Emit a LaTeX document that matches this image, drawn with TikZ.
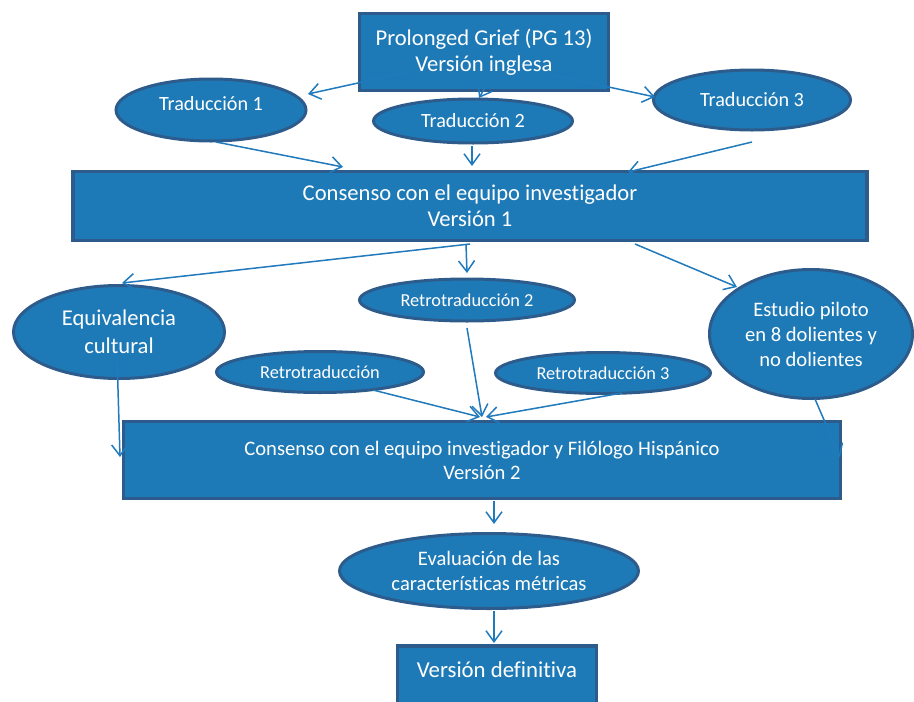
\documentclass[tikz,border=0pt]{standalone}
\usepackage{fontspec}
\setmainfont{Carlito}[Ligatures={NoCommon}]
\usetikzlibrary{shapes.geometric,arrows.meta,calc}
\definecolor{fillb}{RGB}{30,122,182}
\definecolor{edgeb}{RGB}{45,92,140}
\definecolor{arrb}{RGB}{32,122,188}
\begin{document}
\begin{tikzpicture}[x=1pt,y=-1pt,
 box/.style={draw=edgeb,fill=fillb,line width=3.5pt,rectangle,inner sep=0pt},
 ell/.style={draw=edgeb,fill=fillb,line width=3pt,ellipse,inner sep=0pt},
 txt/.style={text=white,align=center,inner sep=0pt},
 arr/.style={draw=arrb,line width=1.5pt,-{Straight Barb[length=11pt,width=16pt,line width=1.5pt]}}]
\clip (0,0) rectangle (914,702);
\fill[white] (0,0) rectangle (914,702);
% shapes
\node[box,txt,minimum width=249,minimum height=77,font=\fontsize{22.6}{26}\selectfont] (top) at (484,52) {Prolonged Grief (PG 13)\\Versión inglesa};
\node[ell,minimum width=190,minimum height=62] (t1) at (211,110) {};
\node[txt,font=\fontsize{20.2}{23}\selectfont] (t1t) at (211,104) {Traducción 1};
\node[ell,txt,minimum width=199,minimum height=44,font=\fontsize{20.2}{23}\selectfont] (t2) at (473,121) {Traducción 2};
\node[ell,txt,minimum width=197,minimum height=60,font=\fontsize{20.2}{23}\selectfont] (t3) at (752,100) {Traducción 3};
\node[box,txt,minimum width=794,minimum height=69,font=\fontsize{22.6}{26}\selectfont] (b1) at (470,206) {Consenso con el equipo investigador\\Versión 1};
\node[ell,txt,minimum width=211,minimum height=93,font=\fontsize{22.6}{28}\selectfont] (eq) at (119,332) {Equivalencia\\cultural};
\node[ell,txt,minimum width=215,minimum height=42,font=\fontsize{18.3}{21}\selectfont] (r2) at (467,300) {Retrotraducción 2};
\node[ell,txt,minimum width=203,minimum height=129,font=\fontsize{20.6}{25}\selectfont] (es) at (811,334) {Estudio piloto\\en 8 dolientes y\\no dolientes};
\node[ell,txt,minimum width=207,minimum height=41,font=\fontsize{18.3}{21}\selectfont] (r1) at (320,372) {Retrotraducción};
\node[ell,txt,minimum width=215,minimum height=41,font=\fontsize{18.3}{21}\selectfont] (r3) at (603,373) {Retrotraducción 3};
\node[box,txt,minimum width=717,minimum height=77,font=\fontsize{20.6}{24}\selectfont] (b2) at (482,460) {Consenso con el equipo investigador y Filólogo Hispánico\\Versión 2};
\node[ell,txt,minimum width=299,minimum height=75,font=\fontsize{20.6}{25}\selectfont] (ev) at (489,571) {Evaluación de las\\características métricas};
\node[box,minimum width=199,minimum height=70] (fin) at (497,681) {};
\node[txt,font=\fontsize{22.8}{26}\selectfont] (fint) at (497,670) {Versión definitiva};
% connectors
\draw[arr] ($(top.center)+(-76,20)$) -- ($(t1.center)+(97,-16)$);
\draw[arr] ($(top.center)+(2,34)$) -- ($(t2.center)+(6,-23)$);
\draw[arr] ($(top.center)+(69,23)$) -- ($(t3.center)+(-97,-3)$);
\draw[arr] ($(t1.center)+(5,32)$) -- ($(b1.center)+(-127,-39)$);
\draw[arr] ($(t2.center)+(-1,25)$) -- ($(b1.center)+(2,-40)$);
\draw[arr] ($(t3.center)+(0,42)$) -- ($(b1.center)+(158,-34)$);
\draw[arr] ($(b1.center)+(0,38)$) -- ($(eq.center)+(3,-49)$);
\draw[arr] ($(b1.center)+(-4,38)$) -- ($(r2.center)+(0,-27)$);
\draw[arr] ($(b1.center)+(165,38)$) -- ($(es.center)+(-74,-47)$);
\draw[arr] ($(eq.center)+(-2,23)$) -- ($(b2.center)+(-362,-3)$);
\draw[arr] ($(r2.center)+(0,28)$) -- ($(b2.center)+(0,-43)$);
\draw[arr] ($(r1.center)+(53,18)$) -- ($(b2.center)+(-2,-43)$);
\draw[arr] ($(r3.center)+(19,20)$) -- ($(b2.center)+(4,-43)$);
\draw[arr] ($(es.center)+(4,65)$) -- ($(b2.center)+(358,-3)$);
\draw[arr] ($(b2.center)+(12,41)$) -- ($(ev.center)+(5,-47)$);
\draw[arr] ($(ev.center)+(5,40)$) -- ($(fin.center)+(-3,-38)$);
\end{tikzpicture}
\end{document}
